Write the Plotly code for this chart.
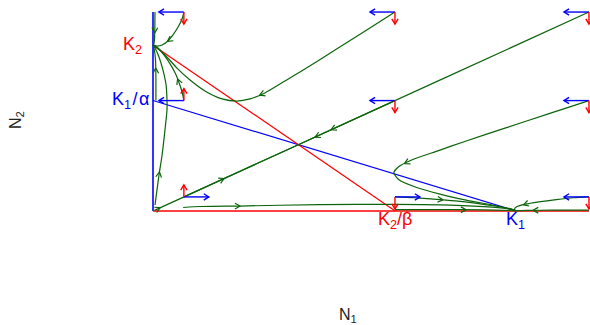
import math
import plotly.graph_objects as go

# Lotka-Volterra competition: carrying capacities and competition coefficients
K1, K2 = 1.0, 1.0
ALPHA, BETA = 1.5, 1.5

# nodes where the direction arrows for dN1/dt (blue) and dN2/dt (red) are drawn
grid_n1 = [0.085, 0.666, 1.2]
grid_n2 = [1.2, 0.666, 0.085]
# signs of dN1/dt and dN2/dt at each node, rows follow grid_n2, columns grid_n1
dn1_sign = [[-1, -1, -1], [-1, -1, -1], [1, 1, -1]]
dn2_sign = [[-1, -1, -1], [1, -1, -1], [1, -1, -1]]

# solution curves (N1, N2), each with the points where an arrowhead sits
traj_a_n1 = [0.085, 0.080, 0.069, 0.055, 0.041, 0.025, 0.011, 0.0]
traj_a_n2 = [1.200, 1.158, 1.110, 1.062, 1.025, 1.001, 0.995, 1.0]
traj_b_n1 = [0.0055, 0.005, 0.004, 0.002, 0.0]
traj_b_n2 = [1.2, 1.1, 1.03, 1.005, 1.0]
traj_c_n1 = [0.666, 0.584, 0.501, 0.418, 0.363, 0.308, 0.267, 0.231, 0.190, 0.143, 0.102, 0.066, 0.033, 0.011, 0.0]
traj_c_n2 = [1.2, 1.086, 0.971, 0.856, 0.784, 0.712, 0.676, 0.663, 0.676, 0.724, 0.790, 0.862, 0.941, 0.983, 1.0]
traj_d_n1 = [1.2, 0.8, 0.4]
traj_d_n2 = [1.2, 0.8, 0.4]
traj_e_n1 = [0.666, 0.5, 0.4]
traj_e_n2 = [0.666, 0.5, 0.4]
traj_f_n1 = [0.085, 0.25, 0.4]
traj_f_n2 = [0.085, 0.25, 0.4]
traj_g_n1 = [0.004, 0.2, 0.4]
traj_g_n2 = [0.004, 0.2, 0.4]
traj_h_n1 = [1.2, 1.086, 0.971, 0.856, 0.784, 0.712, 0.676, 0.663, 0.676, 0.724, 0.790, 0.862, 0.941, 0.983, 1.0]
traj_h_n2 = [0.666, 0.584, 0.501, 0.418, 0.363, 0.308, 0.267, 0.231, 0.190, 0.143, 0.102, 0.066, 0.033, 0.011, 0.0]
traj_i_n1 = [1.2, 1.158, 1.110, 1.062, 1.025, 1.001, 0.995, 1.0]
traj_i_n2 = [0.085, 0.080, 0.069, 0.055, 0.041, 0.025, 0.011, 0.0]
traj_j_n1 = [1.2, 1.1, 1.03, 1.005, 1.0]
traj_j_n2 = [0.0055, 0.005, 0.004, 0.002, 0.0]
traj_k_n1 = [0.666, 0.718, 0.772, 0.832, 0.887, 0.941, 0.983, 1.0]
traj_k_n2 = [0.085, 0.080, 0.072, 0.061, 0.047, 0.030, 0.014, 0.0]
traj_l_n1 = [0.085, 0.080, 0.072, 0.061, 0.047, 0.030, 0.014, 0.0]
traj_l_n2 = [0.666, 0.718, 0.772, 0.832, 0.887, 0.941, 0.983, 1.0]
traj_m_n1 = [0.0055, 0.011, 0.0165, 0.025, 0.033, 0.0385, 0.0385, 0.036, 0.0275, 0.0165, 0.0055, 0.0]
traj_m_n2 = [0.036, 0.127, 0.217, 0.338, 0.489, 0.609, 0.669, 0.760, 0.850, 0.929, 0.983, 1.0]
traj_n_n1 = [0.083, 0.130, 0.238, 0.458, 0.666, 0.818, 0.934, 0.989, 1.0]
traj_n_n2 = [0.021, 0.027, 0.030, 0.039, 0.040, 0.036, 0.023, 0.009, 0.0]
traj_o_n1 = [0.008, 0.008, 0.007, 0.003, 0.0]
traj_o_n2 = [0.666, 0.79, 0.91, 0.98, 1.0]
traj_p_n1 = [0.666, 0.79, 0.91, 0.98, 1.0]
traj_p_n2 = [0.008, 0.008, 0.007, 0.003, 0.0]

curves = [
    (traj_a_n1, traj_a_n2, [(0.041, 1.019)]),
    (traj_b_n1, traj_b_n2, [(0.004, 1.074)]),
    (traj_c_n1, traj_c_n2, [(0.295, 0.690)]),
    (traj_d_n1, traj_d_n2, [(0.49, 0.49)]),
    (traj_e_n1, traj_e_n2, [(0.446, 0.446)]),
    (traj_f_n1, traj_f_n2, [(0.196, 0.196)]),
    (traj_g_n1, traj_g_n2, [(0.02, 0.02)]),
    (traj_h_n1, traj_h_n2, [(0.690, 0.295)]),
    (traj_i_n1, traj_i_n2, [(1.019, 0.041)]),
    (traj_j_n1, traj_j_n2, [(1.046, 0.0045)]),
    (traj_k_n1, traj_k_n2, [(0.798, 0.070)]),
    (traj_l_n1, traj_l_n2, [(0.070, 0.798)]),
    (traj_m_n1, traj_m_n2, [(0.019, 0.235)]),
    (traj_n_n1, traj_n_n2, [(0.240, 0.030)]),
    (traj_o_n1, traj_o_n2, [(0.008, 0.862)]),
    (traj_p_n1, traj_p_n2, [(0.862, 0.008)]),
]

# page geometry: pixel position of the origin and pixels per unit
W, H = 590, 325
ML, MR, MT, MB = 150, 0, 8, 110
X0_PX, Y0_PX = 153.0, 211.0
SX, SY = 363.3, 165.8
x_lo = -(X0_PX - ML) / SX
x_hi = x_lo + (W - ML - MR) / SX
y_lo = -((H - MB) - Y0_PX) / SY
y_hi = y_lo + (H - MT - MB) / SY

BLUE = "#0000ff"
RED = "#ff0000"
GREEN = "#0b640b"
FONT = "Liberation Sans, Arial, sans-serif"


def head(tx, ty, ux, uy, length=6.0, spread=0.5):
    """Open V arrowhead at (tx, ty) pointing along pixel direction (ux, uy)."""
    n = math.hypot(ux, uy) or 1.0
    ux, uy = ux / n, uy / n
    xs, ys = [], []
    for s in (spread, -spread):
        c, si = math.cos(s), math.sin(s)
        wx = -(ux * c - uy * si) * length
        wy = -(ux * si + uy * c) * length
        xs.append(tx + wx / SX)
        ys.append(ty - wy / SY)
    return [xs[0], tx, xs[1], None], [ys[0], ty, ys[1], None]


def head_on_curve(px, py, xs, ys):
    """Arrowhead at the point of the curve nearest to (px, py), along the curve."""
    best = None
    for i in range(len(xs) - 1):
        ax, ay = xs[i] * SX, -ys[i] * SY
        bx, by = xs[i + 1] * SX, -ys[i + 1] * SY
        qx, qy = px * SX, -py * SY
        dx, dy = bx - ax, by - ay
        L2 = dx * dx + dy * dy or 1e-12
        t = max(0.0, min(1.0, ((qx - ax) * dx + (qy - ay) * dy) / L2))
        cx, cy = ax + t * dx, ay + t * dy
        d = (cx - qx) ** 2 + (cy - qy) ** 2
        if best is None or d < best[0]:
            best = (d, cx / SX, -cy / SY, dx, dy)
    _, tx, ty, dx, dy = best
    return head(tx, ty, dx, dy)


fig = go.Figure()

# nullclines of N1 (blue) and N2 (red)
fig.add_trace(go.Scatter(x=[0, 0], y=[0, 1.2], mode="lines",
                         line=dict(color=BLUE, width=1.6), cliponaxis=False, hoverinfo="skip"))
fig.add_trace(go.Scatter(x=[0, K1], y=[K1 / ALPHA, 0], mode="lines",
                         line=dict(color=BLUE, width=1.2), cliponaxis=False, hoverinfo="skip"))
fig.add_trace(go.Scatter(x=[0, 1.2], y=[0, 0], mode="lines",
                         line=dict(color=RED, width=1.6), cliponaxis=False, hoverinfo="skip"))
fig.add_trace(go.Scatter(x=[0, K2 / BETA], y=[K2, 0], mode="lines",
                         line=dict(color=RED, width=1.2), cliponaxis=False, hoverinfo="skip"))

# solution curves with arrowheads
for xs, ys, marks in curves:
    fig.add_trace(go.Scatter(x=xs, y=ys, mode="lines", line=dict(color=GREEN, width=1.2, shape="spline", smoothing=0.6),
                             cliponaxis=False, hoverinfo="skip"))
    hx, hy = [], []
    for mx, my in marks:
        a, b = head_on_curve(mx, my, xs, ys)
        hx += a
        hy += b
    fig.add_trace(go.Scatter(x=hx, y=hy, mode="lines", line=dict(color=GREEN, width=1.2),
                             cliponaxis=False, hoverinfo="skip"))

# direction arrows at the grid nodes
LEN_BLUE = 25.0 / SX
LEN_RED = 12.0 / SY
bx, by, rx, ry = [], [], [], []
for r, gy in enumerate(grid_n2):
    for c, gx in enumerate(grid_n1):
        s1 = dn1_sign[r][c]
        ex = gx + s1 * LEN_BLUE
        bx += [gx, ex, None]
        by += [gy, gy, None]
        a, b = head(ex, gy, s1, 0.0, length=6.0, spread=0.55)
        bx += a
        by += b
        s2 = dn2_sign[r][c]
        ey = gy + s2 * LEN_RED
        rx += [gx, gx, None]
        ry += [gy, ey, None]
        a, b = head(gx, ey, 0.0, -s2, length=6.0, spread=0.55)
        rx += a
        ry += b
fig.add_trace(go.Scatter(x=bx, y=by, mode="lines", line=dict(color=BLUE, width=1.4),
                         cliponaxis=False, hoverinfo="skip"))
fig.add_trace(go.Scatter(x=rx, y=ry, mode="lines", line=dict(color=RED, width=1.4),
                         cliponaxis=False, hoverinfo="skip"))

labels = [
    ("K<sub>2</sub>", 0, K2, "right", "middle", -9, 0, RED),
    ("K<sub>1</sub>\u200a/\u200aα", 0, K1 / ALPHA, "right", "middle", -2, 0, BLUE),
    ("K<sub>2</sub>/β", K2 / BETA, 0, "center", "top", 0, 4, RED),
    ("K<sub>1</sub>", K1, 0, "center", "top", -1, 4, BLUE),
]
for text, x, y, xa, ya, xs_, ys_, col in labels:
    fig.add_annotation(x=x, y=y, xref="x", yref="y", text=text, showarrow=False,
                       xanchor=xa, yanchor=ya, xshift=xs_, yshift=ys_,
                       font=dict(family=FONT, size=18, color=col))

fig.add_annotation(x=(348 - ML) / (W - ML - MR), y=1 - (315 - MT) / (H - MT - MB), xref="paper", yref="paper",
                   text="N<sub>1</sub>", showarrow=False, xanchor="center", yanchor="middle",
                   font=dict(family=FONT, size=16, color="#222222"))
fig.add_annotation(x=(17 - ML) / (W - ML - MR), y=1 - (120 - MT) / (H - MT - MB), xref="paper", yref="paper",
                   text="N<sub>2</sub>", showarrow=False, xanchor="center", yanchor="middle", textangle=-90,
                   font=dict(family=FONT, size=16, color="#222222"))

fig.update_layout(
    width=W, height=H,
    margin=dict(l=ML, r=MR, t=MT, b=MB),
    paper_bgcolor="white", plot_bgcolor="white",
    showlegend=False,
    xaxis=dict(range=[x_lo, x_hi], visible=False, fixedrange=True),
    yaxis=dict(range=[y_lo, y_hi], visible=False, fixedrange=True),
)

fig.write_html("out.html")
